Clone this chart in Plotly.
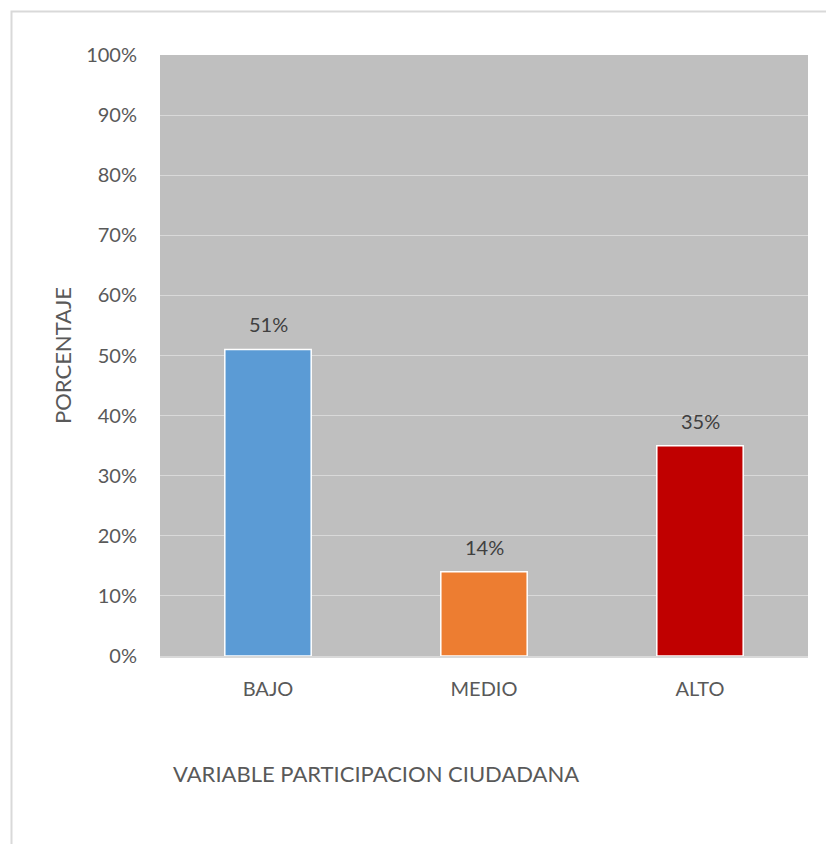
import plotly.graph_objects as go

categories = ["BAJO", "MEDIO", "ALTO"]
values = [0.51, 0.14, 0.35]
colors = ["#5B9BD5", "#ED7D31", "#C00000"]
x_title = "VARIABLE PARTICIPACION CIUDADANA"
y_title = "PORCENTAJE"

OFF = 8  # default body margin of the page
W, H = 834 - OFF, 844 - OFF
# plot area in page pixels: x 160..808, y 55..656
L, R, T, B = 160 - OFF, W - (808 - OFF), 55 - OFF, H - (656 - OFF)
pw, ph = W - L - R, H - T - B

def px_x(p):
    return (p - OFF - L) / pw

def px_y(p):
    return (H - B - (p - OFF)) / ph

font = "Lato, Carlito, Calibri, sans-serif"

fig = go.Figure(go.Bar(
    x=categories, y=values,
    marker=dict(color=colors, line=dict(color="white", width=1.5)),
    width=0.4,
))

for c, v in zip(categories, values):
    fig.add_annotation(x=c, y=v, text=f"{round(v*100)}%", showarrow=False,
                       yshift=25, font=dict(size=20, color="#404040", family=font))

fig.add_annotation(xref="paper", yref="paper", x=px_x(62), y=px_y(356), text=y_title,
                   textangle=-90, showarrow=False, xanchor="center", yanchor="middle",
                   font=dict(size=22, color="#595959", family=font))
fig.add_annotation(xref="paper", yref="paper", x=px_x(376), y=px_y(773), text=x_title,
                   showarrow=False, xanchor="center", yanchor="middle",
                   font=dict(size=22, color="#595959", family=font))

fig.add_shape(type="rect", xref="paper", yref="paper",
              x0=px_x(11.5), x1=px_x(850), y0=px_y(860), y1=px_y(11.5),
              line=dict(color="#D9D9D9", width=2), fillcolor="rgba(0,0,0,0)", layer="below")

fig.update_layout(
    width=W, height=H,
    margin=dict(l=L, r=R, t=T, b=B),
    paper_bgcolor="white", plot_bgcolor="#BFBFBF",
    showlegend=False,
    font=dict(family=font, size=20, color="#595959"),
    xaxis=dict(showgrid=False, showline=True, linecolor="#D9D9D9", linewidth=2,
               ticks="", ticklabelstandoff=14, tickfont=dict(size=20, color="#595959")),
    yaxis=dict(range=[0, 1], dtick=0.1, tickformat=".0%", showgrid=True,
               gridcolor="#D9D9D9", gridwidth=1, zeroline=False, showline=False,
               ticks="", ticklabelstandoff=22, tickfont=dict(size=20, color="#595959")),
)

fig.write_html("out.html")
